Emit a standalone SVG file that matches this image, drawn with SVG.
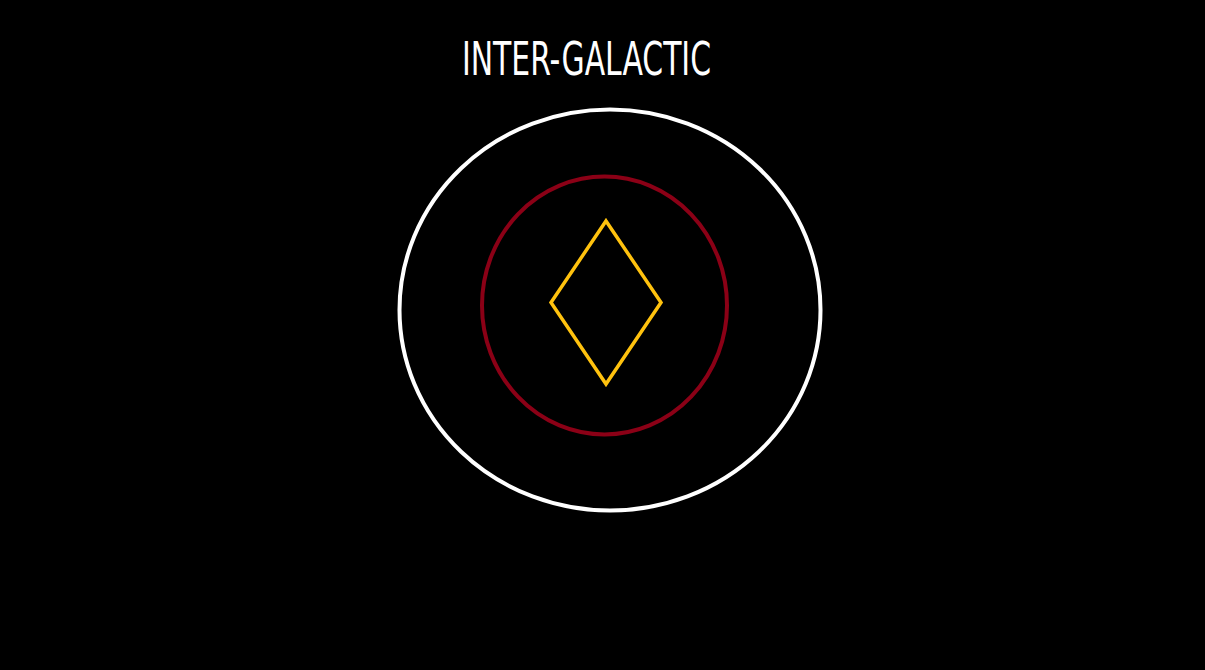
<svg xmlns="http://www.w3.org/2000/svg" width="1205" height="670" viewBox="0 0 1205 670">
<style>
.title{font-family:"DejaVu Sans Condensed","Liberation Sans Narrow","Liberation Sans",sans-serif;font-stretch:condensed;font-size:47px;fill:#ffffff;}
.ring{fill:none;}
</style>
<rect x="0" y="0" width="1205" height="670" fill="#000000"/>
<g id="title">
<text class="title" x="462" y="74.5" textLength="249" lengthAdjust="spacingAndGlyphs">INTER-GALACTIC</text>
</g>
<g id="outer-ring">
<ellipse class="ring" cx="610" cy="310" rx="210.5" ry="200.5" stroke="#ffffff" stroke-width="4"/>
</g>
<g id="middle-ring">
<ellipse class="ring" cx="604.5" cy="305.5" rx="122.5" ry="129" stroke="#8b0016" stroke-width="4"/>
</g>
<g id="diamond">
<polygon class="ring" points="606,221 661,302.5 606,384 551,302.5" stroke="#ffc20e" stroke-width="3.5" stroke-linejoin="miter"/>
</g>
<g id="connectors"></g>
</svg>
